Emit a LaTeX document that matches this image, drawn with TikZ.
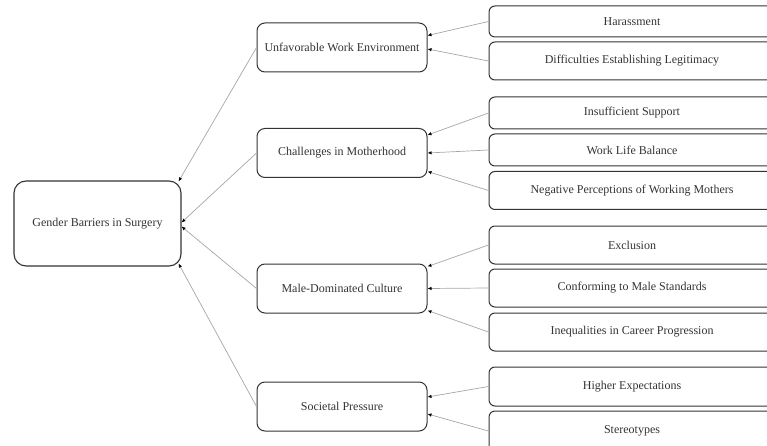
\documentclass[tikz,border=0pt]{standalone}
\usepackage{fontspec}
\setmainfont{Liberation Serif}
\usetikzlibrary{arrows.meta}

\begin{document}
\begin{tikzpicture}[x=1pt, y=1pt,
    every node/.style={font=\fontsize{12}{14}\selectfont, text=black!80},
    rootbox/.style={draw=black!80, line width=1.1pt, rounded corners=12pt, minimum width=167pt, minimum height=85pt, inner sep=0pt},
    midbox/.style={draw=black!80, line width=1pt, rounded corners=8pt, minimum width=170pt, minimum height=49pt, inner sep=0pt},
    leaf/.style={draw=black!80, line width=1pt, rounded corners=6pt, minimum width=286pt, inner sep=0pt},
    feed/.style={draw=black!35, line width=0.7pt, -{Latex[black, length=4pt, width=3.5pt]}}]
            \useasboundingbox (0,0) rectangle (767,-446);
            \clip (0,0) rectangle (767,-446);
            % root and main barriers
            \node[rootbox] (barriers) at (97.5,-223.5) {Gender Barriers in Surgery};
            \node[midbox] (unfavorable) at (342,-47.5) {Unfavorable Work Environment};
            \node[midbox] (motherhood) at (342,-153) {Challenges in Motherhood};
            \node[midbox] (culture) at (342,-288.5) {Male-Dominated Culture};
            \node[midbox] (societal) at (342,-406.5) {Societal Pressure};
            % sub-themes
            \node[leaf, minimum height=31pt] (harassment) at (632,-21.5) {Harassment};
            \node[leaf, minimum height=38pt] (legitimacy) [node distance=39.5pt, below of=harassment] {Difficulties Establishing Legitimacy};
            \node[leaf, minimum height=32pt] (support) at (632,-113) {Insufficient Support};
            \node[leaf, minimum height=32pt] (balance) [node distance=37pt, below of=support] {Work Life Balance};
            \node[leaf, minimum height=38pt] (perceptions) [node distance=40.5pt, below of=balance] {Negative Perceptions of Working Mothers};
            \node[leaf, minimum height=38pt] (exclusion) at (632,-245) {Exclusion};
            \node[leaf, minimum height=38pt] (standards) [node distance=43pt, below of=exclusion] {Conforming to Male Standards};
            \node[leaf, minimum height=38pt] (progression) [node distance=44pt, below of=standards] {Inequalities in Career Progression};
            \node[leaf, minimum height=39pt] (expectations) at (632,-386.5) {Higher Expectations};
            \node[leaf, minimum height=40pt] (stereotypes) [node distance=44.5pt, below of=expectations] {Stereotypes};
            % connectors
            \draw[feed] (unfavorable.west) -- ([shift={(-3pt,-1pt)}]barriers.north east);
            \draw[feed] (motherhood.west) -- ([yshift=1pt]barriers.east);
            \draw[feed] (culture.west) -- ([yshift=-3pt]barriers.east);
            \draw[feed] (societal.west) -- ([shift={(-3pt,3pt)}]barriers.south east);
            \draw[feed] (harassment.west) -- ([yshift=12pt]unfavorable.east);
            \draw[feed] (legitimacy.west) -- ([yshift=-1.5pt]unfavorable.east);
            \draw[feed] (support.west) -- ([yshift=18pt]motherhood.east);
            \draw[feed] (balance.west) -- ([yshift=0pt]motherhood.east);
            \draw[feed] (perceptions.west) -- ([yshift=-18.5pt]motherhood.east);
            \draw[feed] (exclusion.west) -- ([yshift=22pt]culture.east);
            \draw[feed] (standards.west) -- ([yshift=0pt]culture.east);
            \draw[feed] (progression.west) -- ([yshift=-22pt]culture.east);
            \draw[feed] (expectations.west) -- ([yshift=9.5pt]societal.east);
            \draw[feed] (stereotypes.west) -- ([yshift=-7.5pt]societal.east);
        \end{tikzpicture}
\end{document}
